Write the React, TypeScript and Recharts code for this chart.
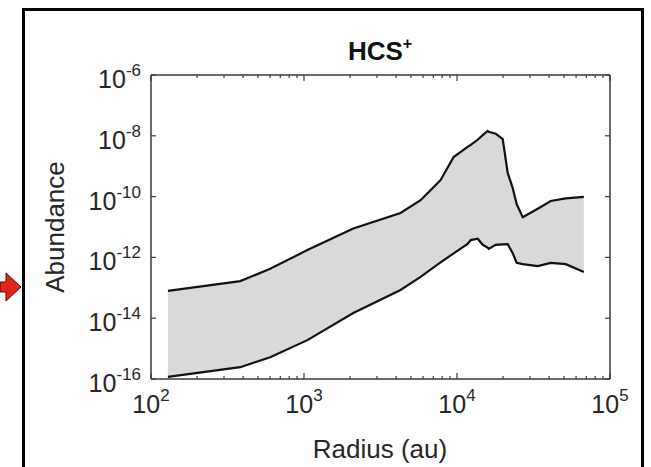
import React from 'react';
import { ComposedChart, Area, Line, XAxis, YAxis } from 'recharts';

// radius (au) sampled along the band
const radius = [129, 383, 601, 1052, 2100, 4275, 5780, 7810, 9510, 11730, 12300, 13650, 14730, 15850, 16100, 17900, 19900, 21450, 23130, 24550, 26900, 33700, 41000, 51400, 67450];
// upper edge of the abundance band
const upper = [7.9e-14, 1.66e-13, 4.2e-13, 1.74e-12, 8.9e-12, 2.9e-11, 7.6e-11, 3.5e-10, 2.0e-9, 4.3e-9, 5.0e-9, 7.4e-9, 1.05e-8, 1.45e-8, 1.35e-8, 1.17e-8, 7.8e-9, 6.0e-10, 1.9e-10, 5.6e-11, 2.1e-11, 4.0e-11, 7.2e-11, 8.7e-11, 9.8e-11];
// lower edge of the abundance band
const lower = [1.17e-16, 2.45e-16, 5.2e-16, 1.9e-15, 1.48e-14, 8.5e-14, 2.3e-13, 6.9e-13, 1.35e-12, 2.8e-12, 3.7e-12, 4.1e-12, 2.6e-12, 2.1e-12, 1.9e-12, 2.6e-12, 2.7e-12, 2.75e-12, 1.38e-12, 6.6e-13, 6.0e-13, 5.2e-13, 6.6e-13, 6.0e-13, 3.3e-13];

const xTicks = [100, 200, 300, 400, 500, 600, 700, 800, 900, 1000, 2000, 3000, 4000, 5000, 6000, 7000, 8000, 9000, 10000, 20000, 30000, 40000, 50000, 60000, 70000, 80000, 90000, 100000];
const yTicks = [1e-6, 1e-8, 1e-10, 1e-12, 1e-14, 1e-16];

const data = radius.map((r, i) => ({ r, band: [lower[i], upper[i]], up: upper[i] }));

const AXIS = '#3a3a3a';
const TEXT = '#262626';
const FONT = '"Liberation Sans", Arial, Helvetica, sans-serif';

const isMajor = (v: number) => Math.abs(Math.log10(v) - Math.round(Math.log10(v))) < 1e-6;

const BottomTick = (props: any) => {
  const { x, y, payload } = props;
  const v = payload.value;
  const major = isMajor(v);
  return (
    <g>
      <line x1={x} x2={x} y1={y} y2={y - (major ? 6 : 3)} stroke={AXIS} strokeWidth={1.2} />
      {major && (
        <text x={x} y={y + 34} textAnchor="middle" fontSize={25} fill={TEXT} fontFamily={FONT}>
          10<tspan dy={-12} fontSize={17}>{Math.round(Math.log10(v))}</tspan>
        </text>
      )}
    </g>
  );
};

const TopTick = (props: any) => {
  const { x, y, payload } = props;
  const major = isMajor(payload.value);
  return <line x1={x} x2={x} y1={y} y2={y + (major ? 6 : 3)} stroke={AXIS} strokeWidth={1.2} />;
};

const LeftTick = (props: any) => {
  const { x, y, payload } = props;
  const exp = Math.round(Math.log10(payload.value));
  return (
    <g>
      <line x1={x} x2={x + 5} y1={y} y2={y} stroke={AXIS} strokeWidth={1.2} />
      <text x={x - 10} y={y + 13} textAnchor="end" fontSize={25} fill={TEXT} fontFamily={FONT}>
        10<tspan dy={-12} fontSize={17}>{exp}</tspan>
      </text>
    </g>
  );
};

const RightTick = (props: any) => {
  const { x, y } = props;
  return <line x1={x} x2={x - 5} y1={y} y2={y} stroke={AXIS} strokeWidth={1.2} />;
};

export default function App() {
  return (
    <div style={{ position: 'absolute', left: 0, top: 0, width: 651, height: 467, overflow: 'hidden', background: '#fff', fontFamily: FONT }}>
      <div style={{ position: 'absolute', left: 22, top: 8, width: 622, height: 500, border: '3px solid #000', boxSizing: 'border-box' }} />
      <svg width={24} height={34} style={{ position: 'absolute', left: 0, top: 270 }}>
        <polygon points="0,12 6,12 6,3 21,17 6,31 6,22 0,22" fill="#e3241b" stroke="#4a0a06" strokeWidth={1} />
      </svg>
      <div style={{ position: 'absolute', left: 0, top: 0 }}>
        <ComposedChart width={651} height={467} data={data} margin={{ top: 74, right: 40, bottom: 48, left: 91 }}>
          <XAxis xAxisId="x" dataKey="r" type="number" scale="log" domain={[100, 100000]} ticks={xTicks} interval={0}
            allowDataOverflow tickSize={0} tickMargin={0} height={40} tick={<BottomTick />}
            axisLine={{ stroke: AXIS, strokeWidth: 1.5 }} />
          <XAxis xAxisId="xt" orientation="top" dataKey="r" type="number" scale="log" domain={[100, 100000]} ticks={xTicks}
            interval={0} allowDataOverflow tickSize={0} tickMargin={0} height={1} tick={<TopTick />}
            axisLine={{ stroke: AXIS, strokeWidth: 1.5 }} />
          <YAxis yAxisId="y" type="number" scale="log" domain={[1e-16, 1e-6]} ticks={yTicks} interval={0}
            allowDataOverflow tickSize={0} tickMargin={0} width={60} tick={<LeftTick />}
            axisLine={{ stroke: AXIS, strokeWidth: 1.5 }} />
          <YAxis yAxisId="yr" orientation="right" type="number" scale="log" domain={[1e-16, 1e-6]} ticks={yTicks} interval={0}
            allowDataOverflow tickSize={0} tickMargin={0} width={1} tick={<RightTick />}
            axisLine={{ stroke: AXIS, strokeWidth: 1.5 }} />
          <Area xAxisId="x" yAxisId="y" dataKey="band" type="linear" fill="#d9d9d9" fillOpacity={1}
            stroke="#111" strokeWidth={2.2} isAnimationActive={false} dot={false} activeDot={false} />
          <Line xAxisId="xt" yAxisId="yr" dataKey="up" stroke="none" dot={false} activeDot={false} isAnimationActive={false} />
          <text x={380} y={60} textAnchor="middle" fontSize={26} fontWeight="bold" fill="#111" fontFamily={FONT}>
            HCS<tspan dy={-11} fontSize={16}>+</tspan>
          </text>
          <text x={380} y={458} textAnchor="middle" fontSize={26} fill={TEXT} fontFamily={FONT}>Radius (au)</text>
          <text x={64} y={227} textAnchor="middle" fontSize={26} fill={TEXT} fontFamily={FONT} transform="rotate(-90 64 227)">Abundance</text>
        </ComposedChart>
      </div>
    </div>
  );
}
